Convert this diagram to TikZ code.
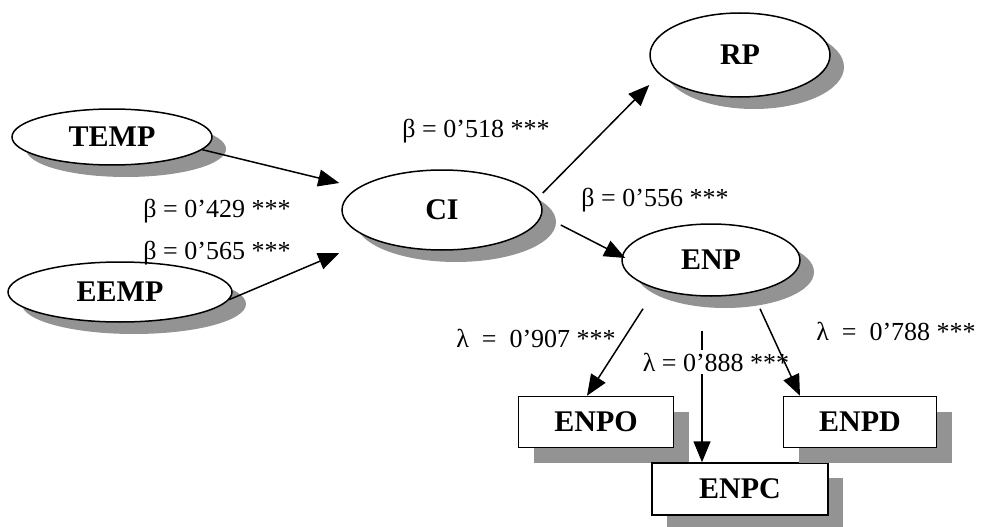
\documentclass[tikz,border=0pt]{standalone}
\usepackage{fontspec}
\setmainfont{Liberation Serif}
\usetikzlibrary{shapes.geometric,shadows,arrows.meta,calc}
\begin{document}
\begin{tikzpicture}[x=1pt,y=-1pt,
  ell/.style={ellipse, draw, line width=1.5pt, fill=white, inner sep=0pt,
    font=\fontsize{30}{32}\selectfont\bfseries,
    drop shadow={shadow xshift=14pt, shadow yshift=-12pt, fill=gray!85, opacity=1}},
  box/.style={rectangle, draw, line width=1.5pt, fill=white, inner sep=0pt,
    font=\fontsize{30}{32}\selectfont\bfseries,
    drop shadow={shadow xshift=15pt, shadow yshift=-15pt, fill=gray!85, opacity=1}},
  arr/.style={line width=1.5pt, -{Triangle[length=21pt,width=17pt]}},
  lab/.style={font=\fontsize{26}{28}\selectfont, inner sep=1pt}]
\useasboundingbox (0,0) rectangle (988,527);
% nodes
\node[ell, minimum width=200pt, minimum height=56pt] (TEMP) at (112,137) {TEMP};
\node[ell, minimum width=224pt, minimum height=60pt] (EEMP) at (120,292) {EEMP};
\node[ell, minimum width=200pt, minimum height=80pt] (CI) at (442,210) {CI};
\node[ell, minimum width=180pt, minimum height=84pt] (RP) at (740,55) {RP};
\node[ell, minimum width=178pt, minimum height=72pt] (ENP) at (711,260) {ENP};
\node[box, minimum width=155pt, minimum height=51pt] (ENPO) at (596,422) {ENPO};
\node[box, minimum width=176pt, minimum height=52pt] (ENPC) at (740,489) {ENPC};
\node[box, minimum width=153pt, minimum height=51pt] (ENPD) at (860,422) {ENPD};
% labels
\node[lab] (l518) at (476,131) {β = 0’518 ***};
\node[lab] (l429) at (217,211) {β = 0’429 ***};
\node[lab] (l565) at (217,253) {β = 0’565 ***};
\node[lab] (l556) at (655,200) {β = 0’556 ***};
\node[lab] (l907) at (536,338) {λ\enspace=\enspace0’907 ***};
\node[lab] (l888) at (716,362) {λ = 0’888 ***};
\node[lab] (l788) at (896,331) {λ\enspace=\enspace0’788 ***};
% structural arrows
\draw[arr] (TEMP.-8) -- ([xshift=-2pt,yshift=27pt]CI.west);
\draw[arr] (EEMP.-4) -- ([xshift=-2pt,yshift=-43pt]CI.west);
\draw[arr] ([yshift=17pt]CI.east) -- ([yshift=-30pt]RP.west);
\draw[arr] ([xshift=18pt,yshift=-15pt]CI.east) -- ([xshift=4pt,yshift=2pt]ENP.west);
% measurement arrows
\draw[arr] ([xshift=-68pt,yshift=-12pt]ENP.south) -- ([xshift=-9pt]ENPO.north);
\coordinate (t888) at ([xshift=-9pt,yshift=-34pt]ENP.south);
\draw[line width=1.5pt] (t888) -- ([yshift=2pt]t888 |- l888.north);
\draw[arr] ([yshift=-2pt]t888 |- l888.south) -- ([xshift=-38pt]ENPC.north);
\draw[arr] ([xshift=49pt,yshift=-12pt]ENP.south) -- ([xshift=-60pt]ENPD.north);
\end{tikzpicture}
\end{document}
